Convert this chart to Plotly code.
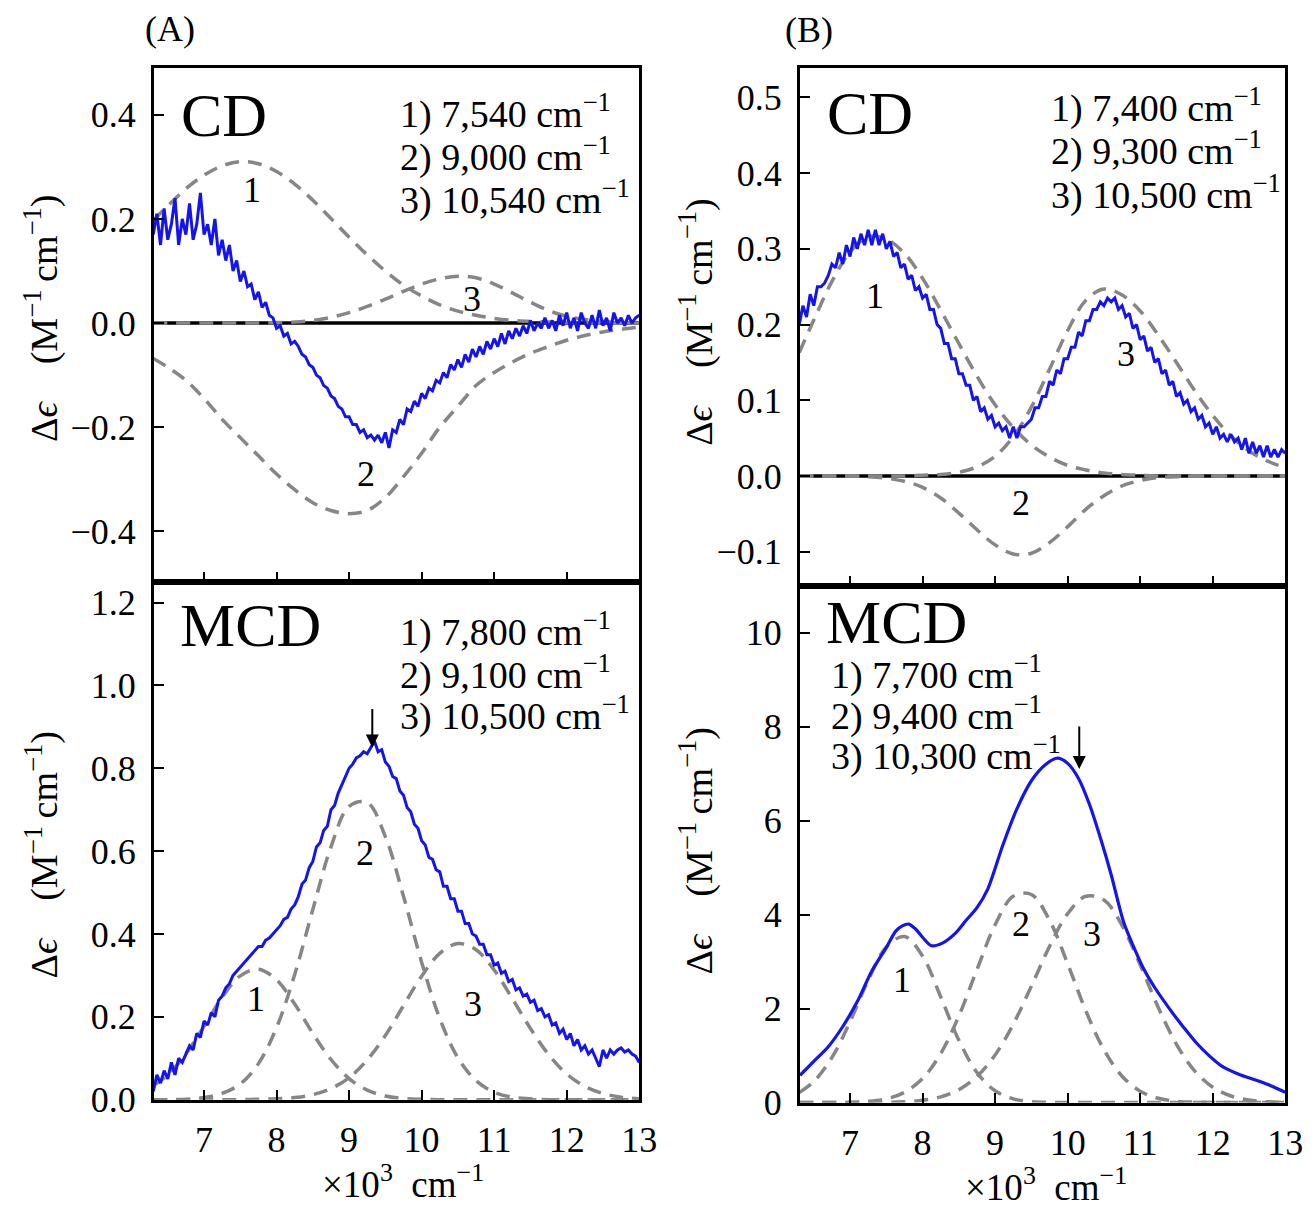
import plotly.graph_objects as go

# ---------------- data ----------------
# measured wavenumbers (x10^3 cm^-1) for the noisy spectra
x_data = [
    6.30, 6.35, 6.40, 6.45, 6.50, 6.55, 6.60, 6.65, 6.70, 6.75,
    6.80, 6.85, 6.90, 6.95, 7.00, 7.05, 7.10, 7.15, 7.20, 7.25,
    7.30, 7.35, 7.40, 7.45, 7.50, 7.55, 7.60, 7.65, 7.70, 7.75,
    7.80, 7.85, 7.90, 7.95, 8.00, 8.05, 8.10, 8.15, 8.20, 8.25,
    8.30, 8.35, 8.40, 8.45, 8.50, 8.55, 8.60, 8.65, 8.70, 8.75,
    8.80, 8.85, 8.90, 8.95, 9.00, 9.05, 9.10, 9.15, 9.20, 9.25,
    9.30, 9.35, 9.40, 9.45, 9.50, 9.55, 9.60, 9.65, 9.70, 9.75,
    9.80, 9.85, 9.90, 9.95, 10.00, 10.05, 10.10, 10.15, 10.20, 10.25,
    10.30, 10.35, 10.40, 10.45, 10.50, 10.55, 10.60, 10.65, 10.70, 10.75,
    10.80, 10.85, 10.90, 10.95, 11.00, 11.05, 11.10, 11.15, 11.20, 11.25,
    11.30, 11.35, 11.40, 11.45, 11.50, 11.55, 11.60, 11.65, 11.70, 11.75,
    11.80, 11.85, 11.90, 11.95, 12.00, 12.05, 12.10, 12.15, 12.20, 12.25,
    12.30, 12.35, 12.40, 12.45, 12.50, 12.55, 12.60, 12.65, 12.70, 12.75,
    12.80, 12.85, 12.90, 12.95, 13.00,
]

a_cd = [
    0.17, 0.21, 0.15, 0.22, 0.16, 0.19, 0.24, 0.15, 0.20, 0.17,
    0.23, 0.16, 0.19, 0.25, 0.17, 0.19, 0.15, 0.20, 0.13, 0.16,
    0.12, 0.15, 0.10, 0.12, 0.08, 0.10, 0.07, 0.075, 0.045, 0.06,
    0.03, 0.04, 0.015, 0.01, -0.01, -0.005, -0.025, -0.02, -0.04, -0.035,
    -0.045, -0.06, -0.065, -0.08, -0.085, -0.10, -0.105, -0.12, -0.125, -0.14,
    -0.145, -0.16, -0.165, -0.18, -0.18, -0.195, -0.195, -0.21, -0.205, -0.22,
    -0.215, -0.225, -0.215, -0.23, -0.21, -0.24, -0.205, -0.21, -0.185, -0.195,
    -0.165, -0.17, -0.15, -0.16, -0.135, -0.145, -0.125, -0.13, -0.11, -0.115,
    -0.095, -0.105, -0.08, -0.09, -0.07, -0.085, -0.06, -0.075, -0.05, -0.065,
    -0.045, -0.06, -0.035, -0.05, -0.03, -0.045, -0.02, -0.04, -0.015, -0.03,
    -0.01, -0.025, -0.005, -0.02, 0.005, -0.015, 0.0, -0.01, 0.01, -0.01,
    0.005, -0.015, 0.015, -0.005, 0.02, -0.01, 0.01, -0.015, 0.02, 0.0,
    -0.01, 0.015, -0.01, 0.025, -0.005, 0.01, -0.015, 0.02, 0.0, 0.01,
    -0.005, 0.015, 0.0, 0.01, 0.015,
]

a_mcd = [
    0.02, 0.06, 0.04, 0.07, 0.05, 0.09, 0.06, 0.10, 0.09, 0.11,
    0.13, 0.12, 0.16, 0.15, 0.19, 0.18, 0.21, 0.20, 0.24, 0.25,
    0.27, 0.28, 0.30, 0.31, 0.32, 0.33, 0.34, 0.35, 0.36, 0.37,
    0.37, 0.385, 0.39, 0.40, 0.41, 0.42, 0.435, 0.44, 0.46, 0.47,
    0.49, 0.52, 0.53, 0.56, 0.575, 0.61, 0.62, 0.65, 0.66, 0.70,
    0.71, 0.74, 0.76, 0.78, 0.80, 0.81, 0.825, 0.83, 0.84, 0.835,
    0.85, 0.865, 0.84, 0.845, 0.815, 0.805, 0.78, 0.775, 0.745, 0.735,
    0.705, 0.695, 0.665, 0.655, 0.625, 0.615, 0.585, 0.58, 0.555, 0.55,
    0.515, 0.515, 0.485, 0.485, 0.455, 0.455, 0.425, 0.425, 0.40, 0.395,
    0.375, 0.375, 0.35, 0.35, 0.325, 0.33, 0.305, 0.31, 0.285, 0.29,
    0.265, 0.27, 0.25, 0.255, 0.235, 0.24, 0.215, 0.22, 0.20, 0.205,
    0.18, 0.185, 0.16, 0.17, 0.145, 0.16, 0.13, 0.145, 0.12, 0.13,
    0.11, 0.12, 0.10, 0.08, 0.12, 0.10, 0.12, 0.11, 0.12, 0.125,
    0.115, 0.12, 0.11, 0.105, 0.09,
]

b_cd = [
    0.20, 0.225, 0.21, 0.24, 0.225, 0.25, 0.25, 0.255, 0.265, 0.28,
    0.275, 0.295, 0.28, 0.305, 0.29, 0.315, 0.30, 0.32, 0.305, 0.325,
    0.305, 0.325, 0.305, 0.32, 0.30, 0.31, 0.29, 0.295, 0.275, 0.28,
    0.26, 0.265, 0.245, 0.25, 0.235, 0.24, 0.22, 0.22, 0.20, 0.195,
    0.175, 0.175, 0.155, 0.155, 0.135, 0.135, 0.12, 0.12, 0.10, 0.105,
    0.085, 0.09, 0.075, 0.08, 0.065, 0.07, 0.06, 0.065, 0.05, 0.065,
    0.05, 0.065, 0.065, 0.07, 0.075, 0.09, 0.09, 0.105, 0.105, 0.125,
    0.12, 0.14, 0.135, 0.155, 0.155, 0.17, 0.17, 0.19, 0.185, 0.205,
    0.205, 0.22, 0.22, 0.23, 0.225, 0.235, 0.23, 0.235, 0.22, 0.225,
    0.21, 0.215, 0.195, 0.2, 0.18, 0.185, 0.165, 0.17, 0.15, 0.155,
    0.135, 0.14, 0.12, 0.125, 0.105, 0.11, 0.095, 0.10, 0.085, 0.09,
    0.075, 0.08, 0.065, 0.07, 0.055, 0.065, 0.05, 0.055, 0.045, 0.055,
    0.045, 0.05, 0.035, 0.05, 0.03, 0.045, 0.03, 0.04, 0.025, 0.04,
    0.025, 0.035, 0.025, 0.035, 0.03,
]

# smooth MCD spectrum of (B)
x_b_mcd = [6.31, 6.5, 6.7, 6.9, 7.1, 7.3, 7.5, 7.63, 7.72, 7.81, 7.9, 8.0, 8.12,
           8.28, 8.45, 8.6, 8.75, 8.9, 9.1, 9.3, 9.5, 9.7, 9.86, 10.0, 10.15,
           10.3, 10.47, 10.6, 10.77, 10.9, 11.04, 11.2, 11.45, 11.6, 11.77,
           11.95, 12.13, 12.35, 12.59, 12.8, 13.0]
b_mcd = [0.58, 0.88, 1.19, 1.62, 2.15, 2.8, 3.3, 3.65, 3.76, 3.8, 3.7, 3.52, 3.34,
         3.4, 3.6, 3.88, 4.15, 4.55, 5.45, 6.25, 6.85, 7.2, 7.33, 7.22, 6.9,
         6.35, 5.54, 4.85, 3.85, 3.35, 2.87, 2.45, 1.9, 1.6, 1.28,
         1.0, 0.77, 0.61, 0.48, 0.36, 0.22]

# fitted band components
x_fit = [6.3, 6.5, 6.75, 7.0, 7.25, 7.5, 7.75, 8.0, 8.25, 8.5, 8.75, 9.0, 9.25,
         9.5, 9.75, 10.0, 10.25, 10.5, 10.75, 11.0, 11.25, 11.5, 11.75, 12.0,
         12.25, 12.5, 12.75, 13.0]

a_cd_band1 = [0.197, 0.225, 0.258, 0.284, 0.302, 0.310, 0.306, 0.291, 0.267, 0.236,
              0.201, 0.165, 0.131, 0.100, 0.073, 0.052, 0.035, 0.023, 0.015, 0.009,
              0.005, 0.003, 0.002, 0.001, 0.0, 0.0, 0.0, 0.0]
a_cd_band2 = [-0.068, -0.085, -0.11, -0.145, -0.185, -0.22, -0.255, -0.29, -0.32, -0.345,
              -0.36, -0.366, -0.36, -0.335, -0.295, -0.25, -0.2, -0.16, -0.12, -0.095,
              -0.075, -0.058, -0.045, -0.033, -0.024, -0.017, -0.012, -0.008]
a_cd_band3 = [0.0, 0.0, 0.0, 0.0, 0.0, 0.0, 0.0, 0.001, 0.002, 0.005,
              0.011, 0.02, 0.032, 0.046, 0.061, 0.075, 0.085, 0.09, 0.087, 0.075,
              0.058, 0.04, 0.024, 0.013, 0.007, 0.003, 0.001, 0.0]

a_mcd_band1 = [0.034, 0.060, 0.111, 0.177, 0.247, 0.299, 0.315, 0.289, 0.231, 0.160,
               0.097, 0.051, 0.023, 0.009, 0.003, 0.001, 0.0, 0.0, 0.0, 0.0,
               0.0, 0.0, 0.0, 0.0, 0.0, 0.0, 0.0, 0.0]
a_mcd_band2 = [0.0, 0.0, 0.001, 0.005, 0.015, 0.038, 0.087, 0.174, 0.302, 0.459,
               0.610, 0.708, 0.717, 0.635, 0.491, 0.332, 0.196, 0.101, 0.046, 0.018,
               0.006, 0.002, 0.0, 0.0, 0.0, 0.0, 0.0, 0.0]
a_mcd_band3 = [0.0, 0.0, 0.0, 0.0, 0.0, 0.0, 0.001, 0.002, 0.005, 0.012,
               0.027, 0.053, 0.096, 0.155, 0.227, 0.298, 0.353, 0.377, 0.362, 0.313,
               0.244, 0.172, 0.109, 0.062, 0.032, 0.015, 0.006, 0.002]

b_cd_band1 = [0.163, 0.206, 0.257, 0.296, 0.316, 0.313, 0.294, 0.261, 0.219, 0.175,
              0.132, 0.094, 0.064, 0.041, 0.025, 0.014, 0.008, 0.004, 0.002, 0.001,
              0.0, 0.0, 0.0, 0.0, 0.0, 0.0, 0.0, 0.0]
b_cd_band2 = [0.0, 0.0, 0.0, 0.0, -0.001, -0.003, -0.007, -0.015, -0.029, -0.049,
              -0.071, -0.091, -0.103, -0.102, -0.088, -0.067, -0.044, -0.026, -0.013, -0.006,
              -0.002, -0.001, 0.0, 0.0, 0.0, 0.0, 0.0, 0.0]
b_cd_band3 = [0.0, 0.0, 0.0, 0.0, 0.0, 0.0, 0.0, 0.001, 0.002, 0.005,
              0.012, 0.026, 0.052, 0.091, 0.141, 0.192, 0.232, 0.247, 0.239, 0.218,
              0.186, 0.150, 0.113, 0.080, 0.053, 0.033, 0.020, 0.011]

b_mcd_band1 = [0.215, 0.448, 0.958, 1.723, 2.605, 3.31, 3.535, 3.119, 2.25, 1.327,
               0.64, 0.252, 0.081, 0.021, 0.005, 0.001, 0.0, 0.0, 0.0, 0.0,
               0.0, 0.0, 0.0, 0.0, 0.0, 0.0, 0.0, 0.0]
b_mcd_band2 = [0.0, 0.0, 0.002, 0.007, 0.026, 0.081, 0.219, 0.512, 1.043, 1.844,
               2.834, 3.785, 4.392, 4.429, 3.882, 2.956, 1.956, 1.125, 0.562, 0.244,
               0.092, 0.030, 0.009, 0.002, 0.0, 0.0, 0.0, 0.0]
b_mcd_band3 = [0.0, 0.0, 0.0, 0.0, 0.002, 0.006, 0.018, 0.05, 0.123, 0.275,
               0.557, 1.014, 1.669, 2.479, 3.323, 4.021, 4.391, 4.314, 3.772, 2.931,
               2.024, 1.242, 0.677, 0.328, 0.141, 0.054, 0.018, 0.006]

x_ticks = [7, 8, 9, 10, 11, 12, 13]
a_cd_ticks = [-0.4, -0.2, 0.0, 0.2, 0.4]
a_cd_ticktext = ["\u22120.4", "\u22120.2", "0.0", "0.2", "0.4"]
a_mcd_ticks = [0.0, 0.2, 0.4, 0.6, 0.8, 1.0, 1.2]
a_mcd_ticktext = ["0.0", "0.2", "0.4", "0.6", "0.8", "1.0", "1.2"]
b_cd_ticks = [-0.1, 0.0, 0.1, 0.2, 0.3, 0.4, 0.5]
b_cd_ticktext = ["\u22120.1", "0.0", "0.1", "0.2", "0.3", "0.4", "0.5"]
b_mcd_ticks = [0, 2, 4, 6, 8, 10]
b_mcd_ticktext = ["0", "2", "4", "6", "8", "10"]

a_cd_legend = ["1) 7,540 cm<sup>\u22121</sup>", "2) 9,000 cm<sup>\u22121</sup>", "3) 10,540 cm<sup>\u22121</sup>"]
a_mcd_legend = ["1) 7,800 cm<sup>\u22121</sup>", "2) 9,100 cm<sup>\u22121</sup>", "3) 10,500 cm<sup>\u22121</sup>"]
b_cd_legend = ["1) 7,400 cm<sup>\u22121</sup>", "2) 9,300 cm<sup>\u22121</sup>", "3) 10,500 cm<sup>\u22121</sup>"]
b_mcd_legend = ["1) 7,700 cm<sup>\u22121</sup>", "2) 9,400 cm<sup>\u22121</sup>", "3) 10,300 cm<sup>\u22121</sup>"]

# ---------------- styling ----------------
FONT = "Liberation Serif, Times New Roman, serif"
BLUE = "#1414ee"
GRAY = "#868686"
W, H = 1314, 1207

fig = go.Figure()

panels = [
    ("x", "y", [a_cd_band1, a_cd_band2, a_cd_band3], x_data, a_cd),
    ("x2", "y2", [a_mcd_band1, a_mcd_band2, a_mcd_band3], x_data, a_mcd),
    ("x3", "y3", [b_cd_band1, b_cd_band2, b_cd_band3], x_data, b_cd),
    ("x4", "y4", [b_mcd_band1, b_mcd_band2, b_mcd_band3], x_b_mcd, b_mcd),
]

for xa, ya, bands, xs, ys in panels:
    for band in bands:
        fig.add_trace(go.Scatter(
            x=x_fit, y=band, xaxis=xa, yaxis=ya, mode="lines",
            line=dict(color=GRAY, width=3.5, dash="14px,9px", shape="spline", smoothing=1.0),
            showlegend=False, hoverinfo="skip"))
    smooth = (xa == "x4")
    fig.add_trace(go.Scatter(
        x=xs, y=ys, xaxis=xa, yaxis=ya, mode="lines",
        line=dict(color=BLUE, width=3.2 if smooth else 3.0,
                  shape="spline" if smooth else "linear", smoothing=0.8),
        showlegend=False, hoverinfo="skip"))

TICKSIZE = 36
common = dict(showline=True, linewidth=3, linecolor="black", mirror=True,
              ticks="inside", ticklen=10, tickwidth=1.5, tickcolor="black",
              showgrid=False, zeroline=False,
              tickfont=dict(family=FONT, size=TICKSIZE, color="black"))

xA = [148 / W, 640 / W]
xB = [803 / W, 1295 / W]

def ydom(top_px, bot_px):
    return [1 - bot_px / H, 1 - top_px / H]

fig.update_layout(
    width=W, height=H, autosize=False,
    margin=dict(l=0, r=0, t=0, b=0),
    paper_bgcolor="white", plot_bgcolor="white",
    showlegend=False,
    xaxis=dict(common, domain=xA, anchor="y", range=[6.31, 13.0], tickvals=x_ticks, showticklabels=False),
    yaxis=dict(common, domain=ydom(61, 584), anchor="x", range=[-0.497, 0.49],
               tickvals=a_cd_ticks, ticktext=a_cd_ticktext, ticklabelstandoff=8),
    xaxis2=dict(common, domain=xA, anchor="y2", range=[6.31, 13.0], tickvals=x_ticks,
                ticklabelstandoff=6),
    yaxis2=dict(common, domain=ydom(584, 1111), anchor="x2", range=[0, 1.25],
                tickvals=a_mcd_ticks, ticktext=a_mcd_ticktext, ticklabelstandoff=8),
    xaxis3=dict(common, domain=xB, anchor="y3", range=[6.31, 13.0], tickvals=x_ticks, showticklabels=False),
    yaxis3=dict(common, domain=ydom(61, 588), anchor="x3", range=[-0.145, 0.539],
                tickvals=b_cd_ticks, ticktext=b_cd_ticktext, ticklabelstandoff=8),
    xaxis4=dict(common, domain=xB, anchor="y4", range=[6.31, 13.0], tickvals=x_ticks,
                ticklabelstandoff=6),
    yaxis4=dict(common, domain=ydom(588, 1114), anchor="x4", range=[0, 11.0],
                tickvals=b_mcd_ticks, ticktext=b_mcd_ticktext, ticklabelstandoff=8),
)

# zero lines in the CD panels
for xa, ya in [("x", "y"), ("x3", "y3")]:
    fig.add_shape(type="line", xref=xa + " domain", yref=ya, x0=0, x1=1, y0=0, y1=0,
                  line=dict(color="black", width=3.5), layer="below")

ann = []

def txt(text, x, y, xref, yref, size=38, xanchor="center", yanchor="middle", angle=0):
    ann.append(dict(text=text, x=x, y=y, xref=xref, yref=yref, showarrow=False,
                    xanchor=xanchor, yanchor=yanchor, textangle=angle,
                    font=dict(family=FONT, size=size, color="black")))

# panel letters
txt("(A)", 164 / W, 1 - 21 / H, "paper", "paper", size=36)
txt("(B)", 812 / W, 1 - 22 / H, "paper", "paper", size=36)

# big labels
txt("CD", 7.27, 0.40, "x", "y", size=62)
txt("MCD", 7.64, 1.145, "x2", "y2", size=62)
txt("CD", 7.27, 0.48, "x3", "y3", size=62)
txt("MCD", 7.64, 10.22, "x4", "y4", size=62)

# legend-like lists
for t, yy in zip(a_cd_legend, [0.406, 0.323, 0.242]):
    txt(t, 9.68, yy, "x", "y", xanchor="left")
for t, yy in zip(a_mcd_legend, [1.136, 1.031, 0.932]):
    txt(t, 9.68, yy, "x2", "y2", xanchor="left")
for t, yy in zip(b_cd_legend, [0.49, 0.432, 0.375]):
    txt(t, 9.74, yy, "x3", "y3", xanchor="left")
for t, yy in zip(b_mcd_legend, [9.16, 8.28, 7.44]):
    txt(t, 6.71, yy, "x4", "y4", xanchor="left")

# band numbers
for t, xx, yy in [("1", 7.66, 0.255), ("2", 9.23, -0.29), ("3", 10.69, 0.047)]:
    txt(t, xx, yy, "x", "y", size=36)
for t, xx, yy in [("1", 7.72, 0.244), ("2", 9.22, 0.595), ("3", 10.71, 0.23)]:
    txt(t, xx, yy, "x2", "y2", size=36)
for t, xx, yy in [("1", 7.34, 0.238), ("2", 9.36, -0.036), ("3", 10.81, 0.161)]:
    txt(t, xx, yy, "x3", "y3", size=36)
for t, xx, yy in [("1", 7.71, 2.6), ("2", 9.35, 3.8), ("3", 10.34, 3.59)]:
    txt(t, xx, yy, "x4", "y4", size=36)

# axis titles
ytitle = "\u0394<i>\u03f5</i>\u2002\u2002(M<sup>\u22121</sup>\u2009cm<sup>\u22121</sup>)"
txt(ytitle, 34 / W, 1 - 316 / H, "paper", "paper", size=38, angle=-90)
txt(ytitle, 34 / W, 1 - 862 / H, "paper", "paper", size=38, angle=-90)
txt(ytitle, 698 / W, 1 - 320 / H, "paper", "paper", size=38, angle=-90)
txt(ytitle, 698 / W, 1 - 858 / H, "paper", "paper", size=38, angle=-90)
xtitle = "\u00d710<sup>3</sup>\u2002cm<sup>\u22121</sup>"
txt(xtitle, 400 / W, 1 - 1194 / H, "paper", "paper", size=37)
txt(xtitle, 1052 / W, 1 - 1197 / H, "paper", "paper", size=37)

# arrows marking the MCD maxima
ann.append(dict(text="", x=9.32, y=0.85, xref="x2", yref="y2", showarrow=True,
                ax=0, ay=-40, arrowhead=2, arrowsize=1.3, arrowwidth=2, arrowcolor="black"))
ann.append(dict(text="", x=10.16, y=7.1, xref="x4", yref="y4", showarrow=True,
                ax=0, ay=-44, arrowhead=2, arrowsize=1.3, arrowwidth=2, arrowcolor="black"))

fig.update_layout(annotations=ann)

fig.write_html("out.html")
